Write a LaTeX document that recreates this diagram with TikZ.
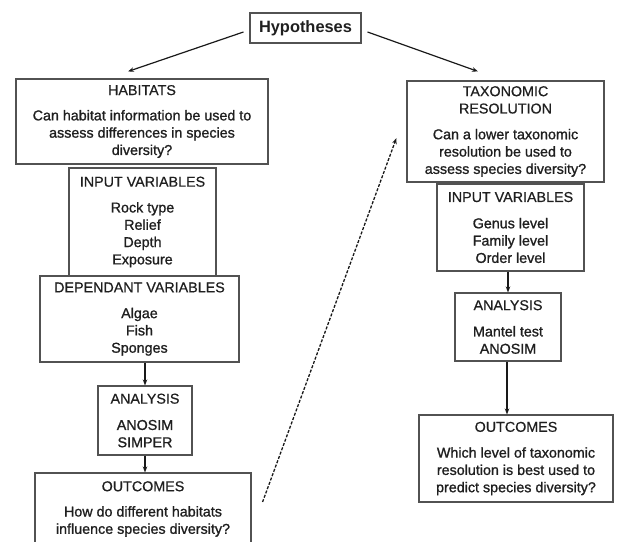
\documentclass[tikz,border=0pt]{standalone}
\usepackage{fontspec}
\setmainfont{Liberation Sans}
\newfontfamily\bodyfont[FakeBold=1.1]{Liberation Sans}
\newfontfamily\headfont[FakeBold=0.6]{Liberation Sans}
\newcommand{\hd}[1]{{\headfont #1}}
\usetikzlibrary{arrows.meta,calc}
\begin{document}
\begin{tikzpicture}[x=1pt,y=-1pt,
  box/.style={draw=black!68, line width=1.1pt, rectangle, inner sep=0pt,
    align=center, text=black!88,
    font=\fontsize{14.3}{17.3}\bodyfont},
  flow/.style={draw=black!90, line width=1.2pt,
    -{Stealth[length=6pt,width=4.5pt]}},
  backlink/.style={flow, line width=1.3pt, dash pattern=on 3pt off 1.6pt}
]
\useasboundingbox (0,0) rectangle (621,541);

% top node
\node[box, minimum width=111pt, minimum height=30pt,
  font=\fontsize{16.4}{19}\selectfont\bfseries] (hyp) at (305.5,28) {Hypotheses};

% left branch: habitats
\node[box, minimum width=252pt, minimum height=85pt] (hab) at (142,121.5)
  {\hd{HABITATS}\\[8pt]Can habitat information be used to\\assess differences in species\\diversity?};
\node[box, minimum width=147pt, minimum height=108pt] (inl) at (142.5,222)
  {\hd{INPUT VARIABLES}\\[8.5pt]Rock type\\Relief\\Depth\\Exposure};
\node[box, minimum width=199pt, minimum height=86pt] (dep) at (139.5,319)
  {\hd{DEPENDANT VARIABLES}\\[8.5pt]Algae\\Fish\\Sponges};
\node[box, minimum width=94pt, minimum height=69pt] (anl) at (145,420.5)
  {\hd{ANALYSIS}\\[9pt]ANOSIM\\SIMPER};
\node[box, minimum width=216pt, minimum height=72pt] (outl) at (143,509)
  {\hd{OUTCOMES}\\[8pt]How do different habitats\\influence species diversity?};

% right branch: taxonomic resolution
\node[box, minimum width=197pt, minimum height=101pt] (tax) at (505.5,131.5)
  {\hd{TAXONOMIC}\\\hd{RESOLUTION}\\[8.5pt]Can a lower taxonomic\\resolution be used to\\assess species diversity?};
\node[box, minimum width=147pt, minimum height=87pt] (inr) at (510.5,227.5)
  {\hd{INPUT VARIABLES}\\[9pt]Genus level\\Family level\\Order level};
\node[box, minimum width=106pt, minimum height=68pt] (anr) at (508,327)
  {\hd{ANALYSIS}\\[9pt]Mantel test\\ANOSIM};
\node[box, minimum width=194pt, minimum height=87pt] (outr) at (516,458.5)
  {\hd{OUTCOMES}\\[8.5pt]Which level of taxonomic\\resolution is best used to\\predict species diversity?};

% connectors
\draw[flow] ($(hyp.west)+(-6,4)$) -- ($(hab.north)+(-14,-7)$);
\draw[flow] ($(hyp.east)+(6,4)$) -- ($(tax.north)+(-27.5,-9)$);
\draw[flow] (anl.north |- dep.south) -- (anl.north);
\draw[flow] (anl.south) -- (anl.south |- outl.north);
\draw[flow] (anr.north |- inr.south) -- (anr.north);
\draw[flow] ($(anr.south)+(-1,0)$) -- ($(anr.south |- outr.north)+(-1,0)$);
\draw[backlink] ($(outl.east)+(11,-7)$) -- ($(tax.west)+(-10,6.5)$);
\end{tikzpicture}
\end{document}
